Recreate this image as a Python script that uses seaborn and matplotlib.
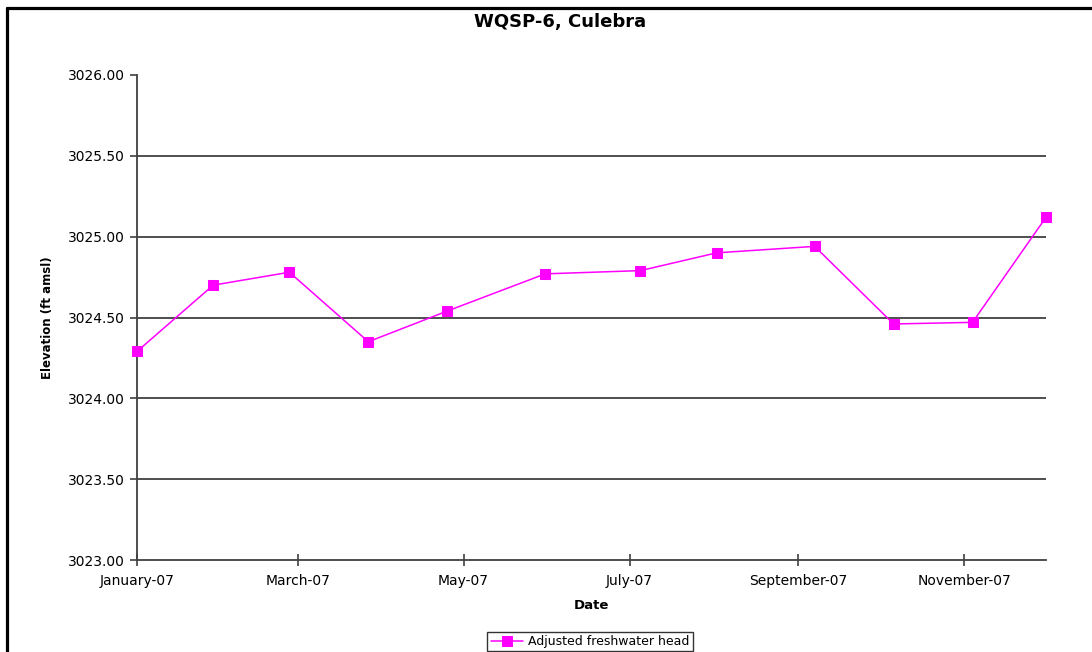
import matplotlib
matplotlib.use("Agg")
import matplotlib.pyplot as plt
import matplotlib.dates as mdates
from matplotlib.lines import Line2D
import seaborn as sns
import pandas as pd

# ---- data ----
dates = ["2007-01-01", "2007-01-29", "2007-02-26", "2007-03-27", "2007-04-25",
         "2007-05-31", "2007-07-05", "2007-08-02", "2007-09-07", "2007-10-06",
         "2007-11-04", "2007-12-01"]
head = [3024.29, 3024.70, 3024.78, 3024.35, 3024.54, 3024.77,
        3024.79, 3024.90, 3024.94, 3024.46, 3024.47, 3025.12]
series_name = "Adjusted freshwater head"
title = "WQSP-6, Culebra"
x_ticks = ["2007-01-01", "2007-03-01", "2007-05-01", "2007-07-01", "2007-09-01", "2007-11-01"]
y_ticks = [3023.0, 3023.5, 3024.0, 3024.5, 3025.0, 3025.5, 3026.0]

df = pd.DataFrame({"Date": pd.to_datetime(dates), "Elevation": head, "Series": series_name})

sns.set_style("white")
plt.rcParams["font.family"] = ["DejaVu Sans"]
plt.rcParams["text.color"] = "black"
plt.rcParams["axes.labelcolor"] = "black"
plt.rcParams["xtick.color"] = "black"
plt.rcParams["ytick.color"] = "black"

fig = plt.figure(figsize=(10.92, 6.52), dpi=100)
ax = fig.add_axes([137 / 1092, 1 - 560 / 652, (1046 - 137) / 1092, (560 - 75) / 652])

sns.lineplot(data=df, x="Date", y="Elevation", hue="Series", palette=["#FF00FF"],
             marker="s", markersize=7, markeredgecolor="#FF00FF", linewidth=1.1,
             ax=ax, legend=True)
for ln in ax.get_lines():
    ln.set_clip_on(False)
    ln.set_zorder(5)

ax.set_xlim(pd.Timestamp("2007-01-01"), pd.Timestamp("2007-12-01"))
ax.set_ylim(3023.0, 3026.0)
ax.set_yticks(y_ticks)
ax.yaxis.set_major_formatter(matplotlib.ticker.FormatStrFormatter("%.2f"))
ax.set_xticks(pd.to_datetime(x_ticks))
ax.xaxis.set_major_formatter(mdates.DateFormatter("%B-%y"))

ax.tick_params(axis="y", direction="out", length=5, width=1.2, color="#404040",
               labelsize=10, pad=4, left=True, labelcolor="black")
ax.tick_params(axis="x", direction="inout", length=8, width=1.2, color="#404040",
               labelsize=10, pad=6, bottom=True, labelcolor="black")

ax.yaxis.grid(True, color="#404040", linewidth=1.3)
ax.xaxis.grid(False)
ax.get_ygridlines()[-1].set_visible(False)
ax.get_ygridlines()[0].set_visible(False)

for s in ["top", "right"]:
    ax.spines[s].set_visible(False)
for s in ["left", "bottom"]:
    ax.spines[s].set_color("#404040")
    ax.spines[s].set_linewidth(1.3)

ax.set_xlabel("Date", fontsize=9.5, fontweight="bold", labelpad=8, color="black")
ax.set_ylabel("Elevation (ft amsl)", fontsize=8.5, fontweight="bold", labelpad=10,
              color="black")

fig.text(560 / 1092, 1 - 22 / 652, title, ha="center", va="center",
         fontsize=13, fontweight="bold", color="black")

ax.legend_.remove()
handles, labels = ax.get_legend_handles_labels()
leg = fig.legend(handles, labels, loc="upper center",
                 bbox_to_anchor=(590 / 1092, 1 - 632 / 652), fontsize=9,
                 frameon=True, fancybox=False, edgecolor="black",
                 handlelength=2.6, borderpad=0.25, handletextpad=0.4,
                 borderaxespad=0.0)
leg.get_frame().set_linewidth(1.0)
for t in leg.get_texts():
    t.set_color("black")

# outer frame (top and left edges visible in crop)
fig.add_artist(Line2D([6.5 / 1092, 1.0], [1 - 7.5 / 652, 1 - 7.5 / 652],
                      transform=fig.transFigure, color="black", linewidth=2.3))
fig.add_artist(Line2D([6.5 / 1092, 6.5 / 1092], [0.0, 1 - 7.5 / 652],
                      transform=fig.transFigure, color="black", linewidth=2.3))

fig.savefig("out.png", dpi=100)
